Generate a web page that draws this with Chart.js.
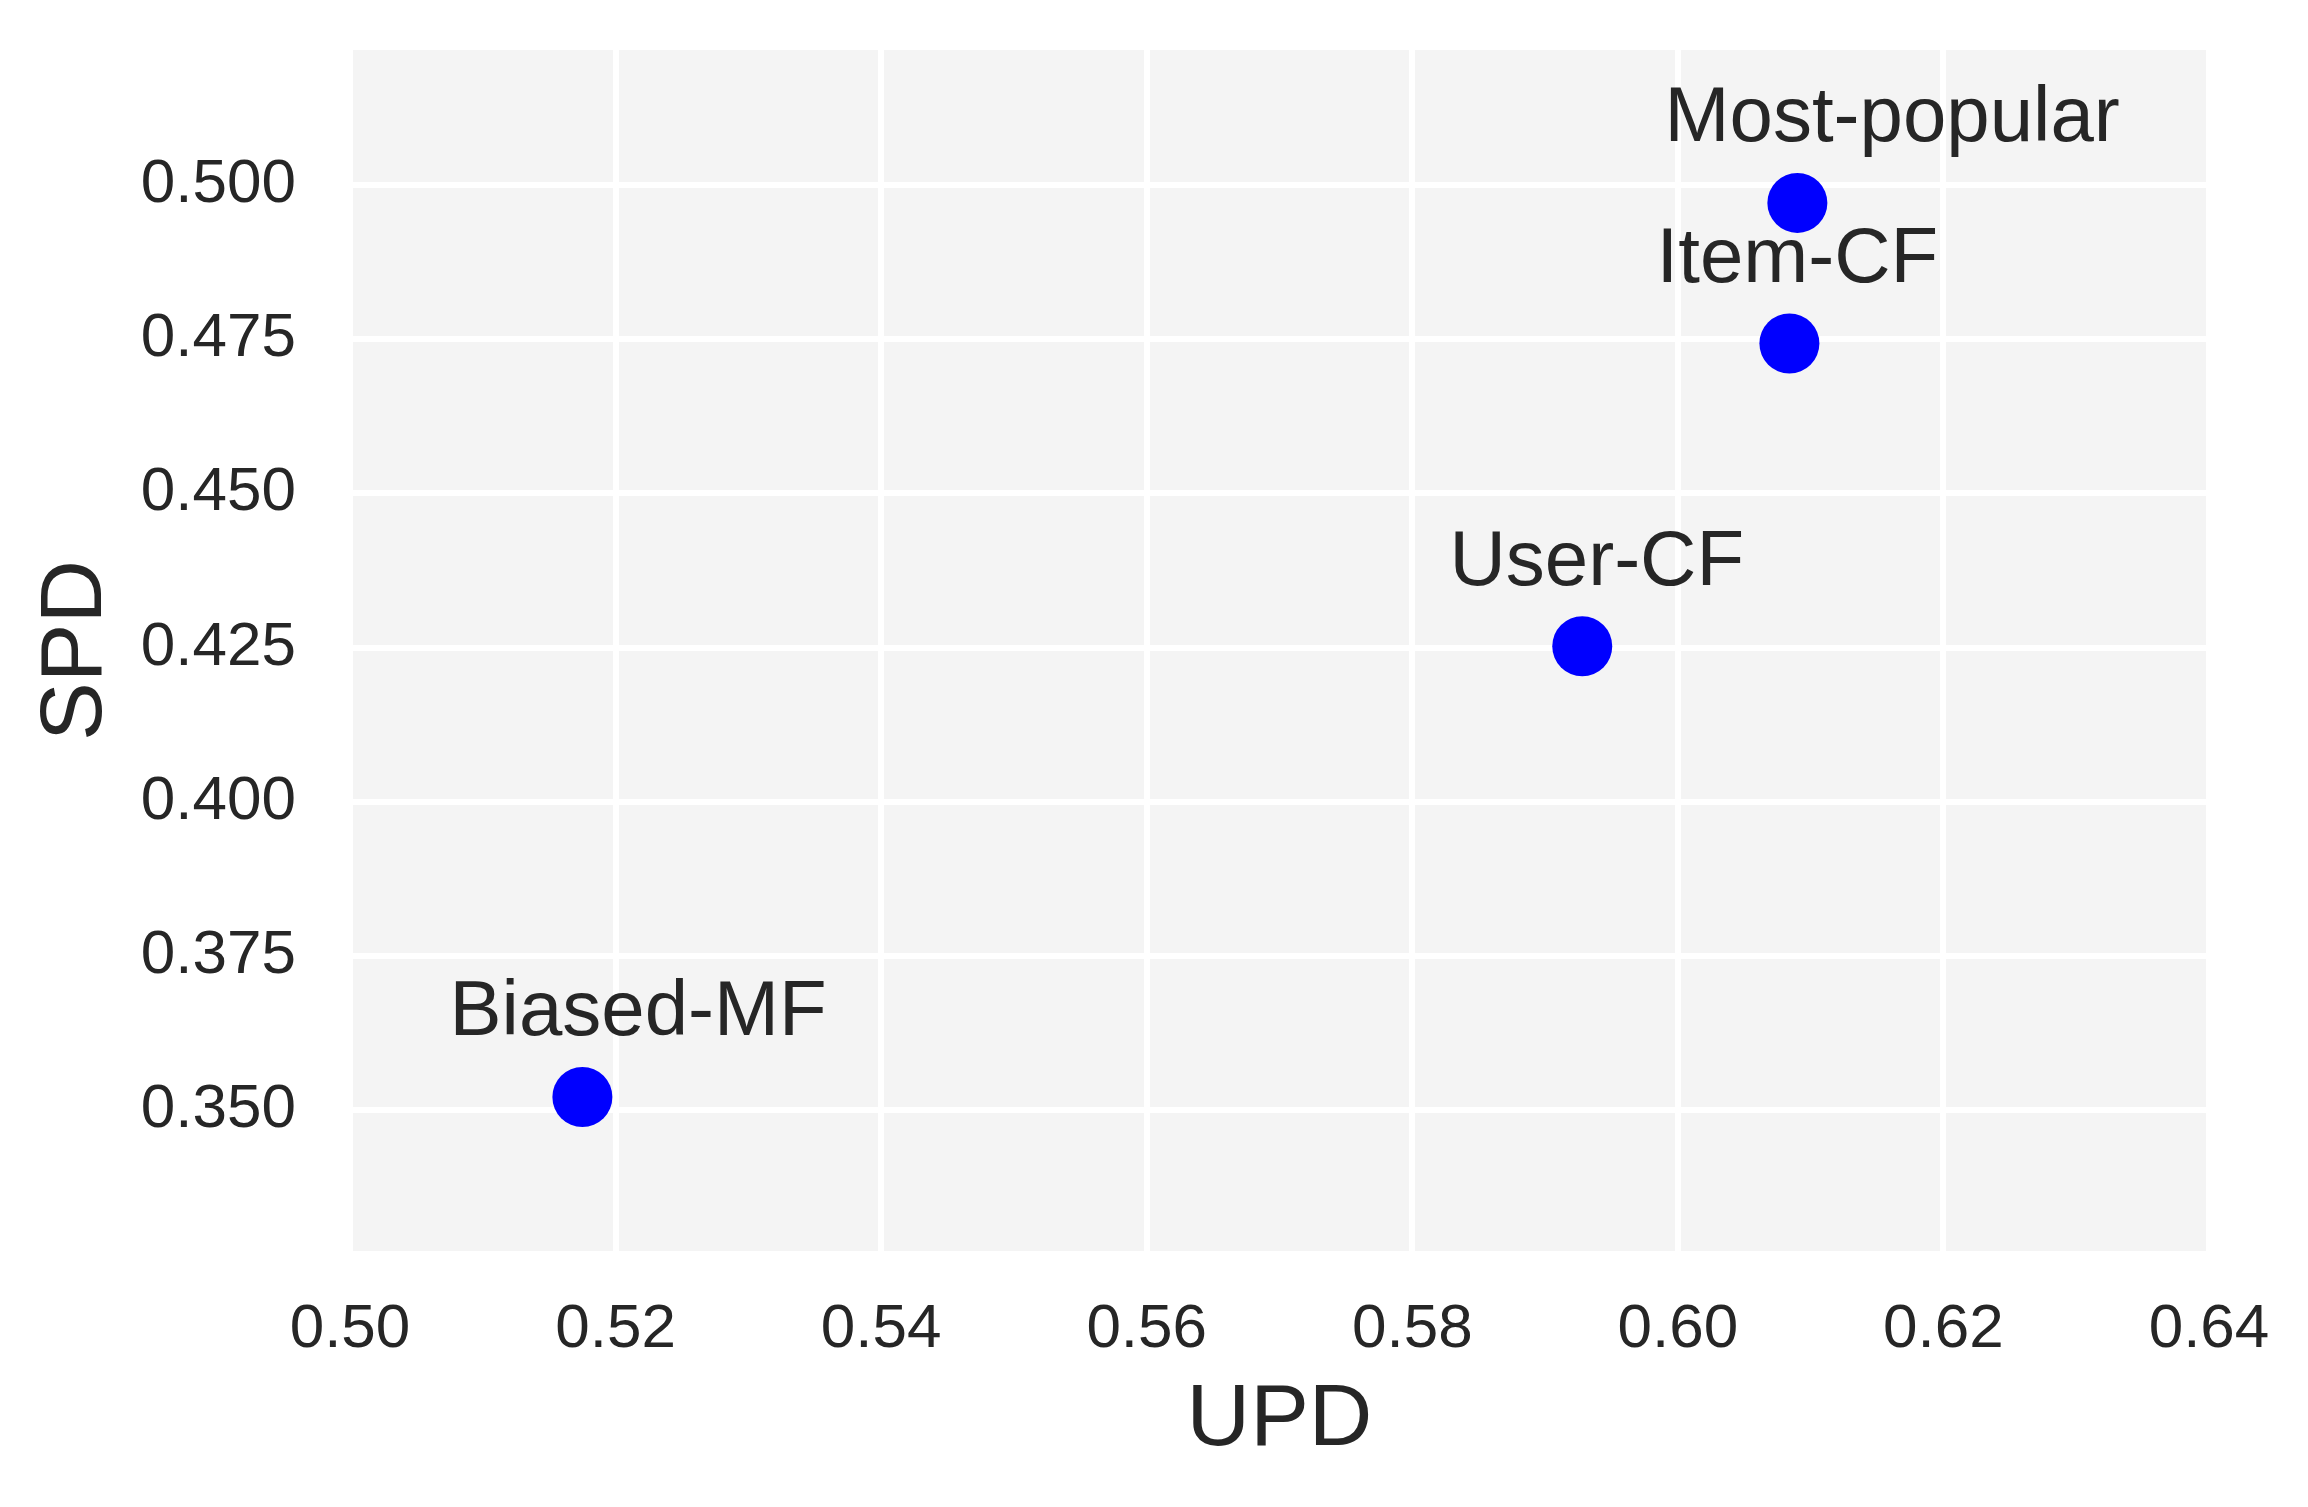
<!DOCTYPE html>
<html lang="en">
<head>
    <meta charset="UTF-8">
    <script src="https://cdn.jsdelivr.net/npm/chart.js"></script>
    <title>UPD vs SPD</title>
    <style>
        html, body { margin: 0; padding: 0; background: #ffffff; }
        canvas { display: block; }
    </style>
</head>
<body>
    <canvas id="myChart" width="2308" height="1507" style="width:2308px;height:1507px"></canvas>

    <script>
        // values
        const methods = ["Most-popular", "Item-CF", "User-CF", "Biased-MF"];
        const updValues = [0.6090, 0.6084, 0.5928, 0.5175];
        const spdValues = [0.4971, 0.4743, 0.4252, 0.3521];

        const xTicks = [0.50, 0.52, 0.54, 0.56, 0.58, 0.60, 0.62, 0.64];
        const yTicks = [0.350, 0.375, 0.400, 0.425, 0.450, 0.475, 0.500];

        const textColor = "#262626";
        const fontName = "'Liberation Sans', Arial, sans-serif";

        const points = updValues.map(function(x, i) {
            return { x: x, y: spdValues[i] };
        });

        // grey plot background
        const plotBackground = {
            id: "plotBackground",
            beforeDraw: function(chart) {
                const a = chart.chartArea;
                const ctx = chart.ctx;
                ctx.save();
                ctx.fillStyle = "#f4f4f4";
                ctx.fillRect(a.left, a.top, a.right - a.left, a.bottom - a.top);
                ctx.restore();
            }
        };

        // method names next to each point, offset by 0.01 in data units
        const pointLabels = {
            id: "pointLabels",
            afterDatasetsDraw: function(chart) {
                const ctx = chart.ctx;
                const xs = chart.scales.x;
                const ys = chart.scales.y;
                ctx.save();
                ctx.font = "78px " + fontName;
                ctx.fillStyle = textColor;
                ctx.textAlign = "left";
                ctx.textBaseline = "alphabetic";
                methods.forEach(function(name, i) {
                    const px = xs.getPixelForValue(updValues[i] - 0.01);
                    const py = ys.getPixelForValue(spdValues[i] + 0.01);
                    ctx.fillText(name, px, py);
                });
                ctx.restore();
            }
        };

        new Chart("myChart", {
            type: "scatter",
            data: {
                datasets: [{
                    label: "methods",
                    data: points,
                    backgroundColor: "#0000ff",
                    borderWidth: 0,
                    pointRadius: 30,
                    pointHoverRadius: 30
                }]
            },
            options: {
                responsive: false,
                animation: false,
                devicePixelRatio: 1,
                layout: { padding: { top: 50, right: 99, left: 0, bottom: 0 } },
                plugins: {
                    legend: { display: false },
                    tooltip: { enabled: false }
                },
                scales: {
                    x: {
                        type: "linear",
                        min: 0.50,
                        max: 0.64,
                        afterBuildTicks: function(scale) {
                            scale.ticks = xTicks.map(function(v) { return { value: v }; });
                        },
                        afterFit: function(scale) {
                            scale.height = 256;
                            scale.paddingLeft = 0;
                            scale.paddingRight = 0;
                        },
                        border: { display: false },
                        grid: { color: "#ffffff", lineWidth: 6, drawTicks: false },
                        ticks: {
                            padding: 42,
                            color: textColor,
                            font: { family: fontName, size: 62 },
                            maxRotation: 0,
                            callback: function(v) { return Number(v).toFixed(2); }
                        },
                        title: {
                            display: true,
                            text: "UPD",
                            color: textColor,
                            font: { family: fontName, size: 88 },
                            padding: 33
                        }
                    },
                    y: {
                        type: "linear",
                        min: 0.32714,
                        max: 0.52189,
                        afterBuildTicks: function(scale) {
                            scale.ticks = yTicks.map(function(v) { return { value: v }; });
                        },
                        afterFit: function(scale) {
                            scale.width = 350;
                            scale.paddingTop = 0;
                            scale.paddingBottom = 0;
                        },
                        border: { display: false },
                        grid: { color: "#ffffff", lineWidth: 6, drawTicks: false },
                        ticks: {
                            padding: 54,
                            color: textColor,
                            font: { family: fontName, size: 62 },
                            callback: function(v) { return Number(v).toFixed(3); }
                        },
                        title: {
                            display: true,
                            text: "SPD",
                            color: textColor,
                            font: { family: fontName, size: 88 },
                            padding: 24
                        }
                    }
                }
            },
            plugins: [plotBackground, pointLabels]
        });
    </script>
</body>
</html>
